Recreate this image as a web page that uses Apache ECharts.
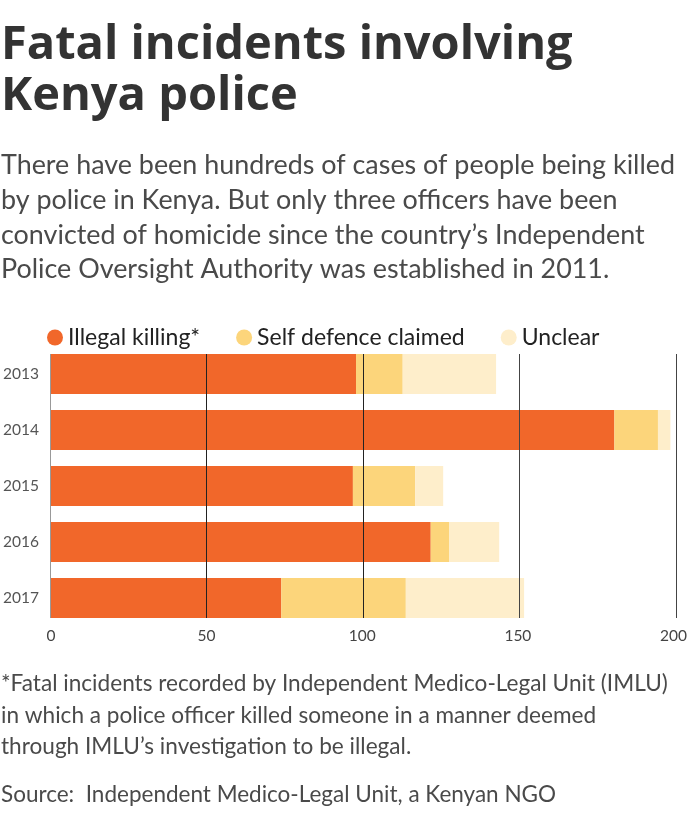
<!DOCTYPE html>
<html>
<head>
<meta charset="utf-8">
<script src="https://cdn.jsdelivr.net/npm/echarts@6/dist/echarts.min.js"></script>
<style>
  html, body { margin: 0; padding: 0; background: #fff; }
  #chart { width: 690px; height: 818px; }
</style>
</head>
<body>
<div id="chart"></div>
<script>
const years = ['2013', '2014', '2015', '2016', '2017'];
const illegalKilling = [98, 181, 97, 122, 74];
const selfDefence = [15, 14, 20, 6, 40];
const unclear = [30, 4, 9, 16, 38];
const seriesNames = ['Illegal killing*', 'Self defence claimed', 'Unclear'];
const xTicks = [0, 50, 100, 150, 200];

const FONT = 'Lato';
const chart = echarts.init(document.getElementById('chart'), null, { renderer: 'canvas' });

const colors = ['#F1672A', '#FCD57B', '#FEEECB'];

chart.setOption({
  animation: false,
  backgroundColor: '#ffffff',
  textStyle: { fontFamily: FONT },
  graphic: [
    {
      type: 'text', left: 1, top: 20,
      style: {
        text: 'Fatal incidents involving\nKenya police',
        font: 'bold 47px "Open Sans"', fill: '#333333', lineHeight: 51
      }
    },
    {
      type: 'text', left: 1, top: 148,
      style: {
        text: 'There have been hundreds of cases of people being killed\nby police in Kenya. But only three officers have been\nconvicted of homicide since the country\u2019s Independent\nPolice Oversight Authority was established in 2011.',
        font: '26.9px ' + FONT, fill: '#4a4a4a', lineHeight: 34.8
      }
    },
    {
      type: 'text', left: 1, top: 668,
      style: {
        text: '*Fatal incidents recorded by Independent Medico-Legal Unit (IMLU)\nin which a police officer killed someone in a manner deemed\nthrough IMLU\u2019s investigation to be illegal.',
        font: '22.6px ' + FONT, fill: '#4a4a4a', lineHeight: 31.5
      }
    },
    {
      type: 'text', left: 1, top: 779,
      style: {
        text: 'Source:  Independent Medico-Legal Unit, a Kenyan NGO',
        font: '22.5px ' + FONT, fill: '#4a4a4a', lineHeight: 31.5
      }
    }
  ],
  legend: {
    left: 47, top: 326, padding: 0,
    icon: 'circle', itemWidth: 16, itemHeight: 16, itemGap: 36,
    textStyle: { fontFamily: FONT, fontSize: 23, color: '#222222' },
    data: seriesNames
  },
  grid: [
    { left: 50, right: 14, top: 346, height: 280, containLabel: false },
    { left: 50, right: 14, top: 354, height: 264, containLabel: false }
  ],
  xAxis: [
    {
      type: 'value', gridIndex: 0, min: 0, max: 200, interval: 50,
      axisLine: { show: false }, axisTick: { show: false },
      axisLabel: { color: '#444444', fontSize: 15.5, fontFamily: FONT, margin: 2 },
      splitLine: { show: false }
    },
    {
      type: 'value', gridIndex: 1, min: 0, max: 200, interval: 50, z: 10,
      axisLine: { show: false }, axisTick: { show: false },
      axisLabel: { show: false },
      splitLine: { show: true, lineStyle: { color: ['#999999', '#222222', '#222222', '#444444', '#444444'], width: 1 } }
    }
  ],
  yAxis: [
    {
      type: 'category', gridIndex: 0, data: years, inverse: true,
      axisLine: { show: false },
      axisTick: { show: false },
      axisLabel: { color: '#555555', fontSize: 15.5, fontFamily: FONT, margin: 12 }
    },
    {
      type: 'value', gridIndex: 1, show: false, min: 0, max: 1
    }
  ],
  series: [
    { name: seriesNames[0], type: 'bar', stack: 'a', data: illegalKilling, barWidth: 40, itemStyle: { color: colors[0] } },
    { name: seriesNames[1], type: 'bar', stack: 'a', data: selfDefence, barWidth: 40, itemStyle: { color: colors[1] } },
    { name: seriesNames[2], type: 'bar', stack: 'a', data: unclear, barWidth: 40, itemStyle: { color: colors[2] } }
  ]
});
</script>
</body>
</html>
